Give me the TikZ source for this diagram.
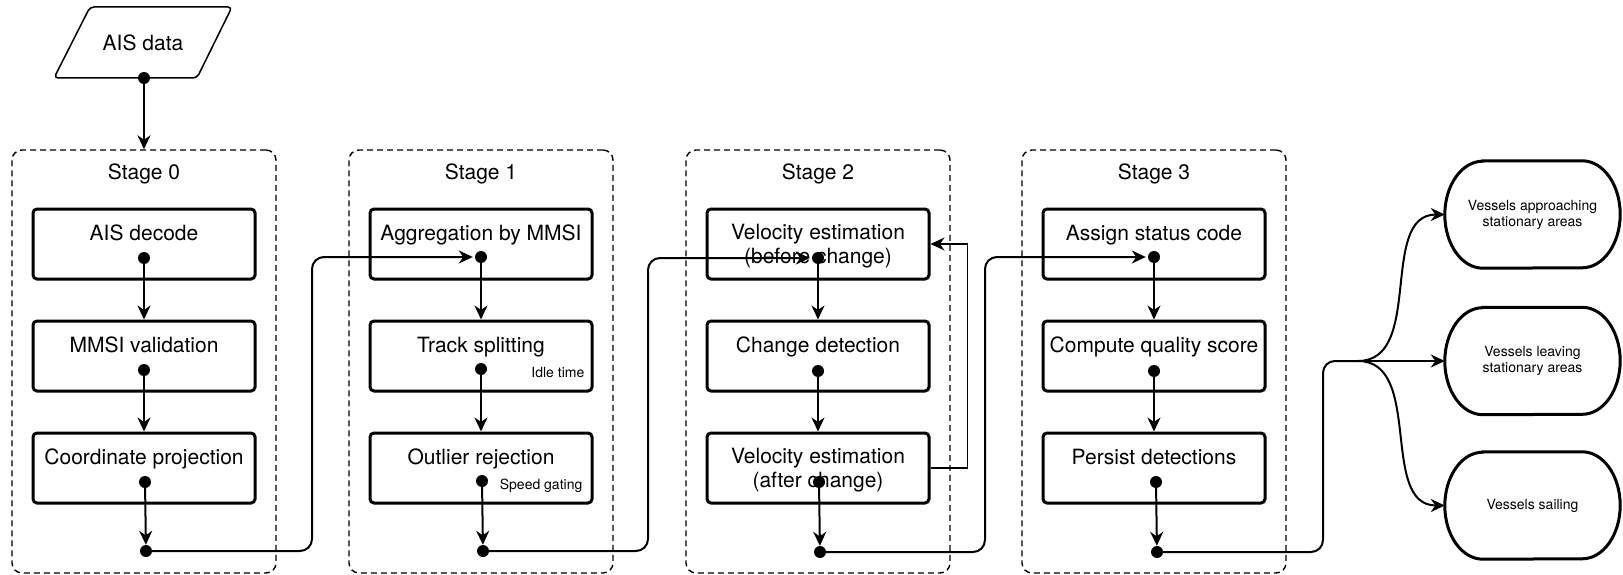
\documentclass[tikz,border=0pt]{standalone}
\usepackage{fontspec}
\setmainfont{TeX Gyre Heros}
\usetikzlibrary{arrows.meta,calc}
\begin{document}
\begin{tikzpicture}[x=1pt,y=-1pt,
  stagebox/.style={draw, line width=1.4pt, dash pattern=on 6pt off 4pt, rounded corners=10pt,
    minimum width=264pt, minimum height=423pt, inner sep=0pt},
  procbox/.style={draw, line width=3pt, rounded corners=4pt, minimum width=222pt,
    minimum height=70pt, inner sep=0pt},
  bigtext/.style={font=\fontsize{21}{24}\selectfont, inner sep=0pt, text height=15pt, text depth=4pt},
  twoline/.style={font=\fontsize{21}{24}\selectfont, inner sep=0pt, align=center},
  notetext/.style={font=\fontsize{14}{16}\selectfont, inner sep=0pt, text height=10pt,
    text depth=3pt, anchor=east},
  dotnode/.style={circle, fill=black, inner sep=0pt, minimum size=12pt},
  arrowhd/.style={-{Stealth[length=14pt,width=13pt,inset=4.5pt]}},
  flowline/.style={arrowhd, line width=2pt},
  linkline/.style={flowline, rounded corners=12pt, shorten >=2pt},
  fbline/.style={arrowhd, line width=1.4pt},
  termnode/.style={font=\fontsize{14}{16}\selectfont, align=center, inner sep=0pt,
    minimum width=175pt, minimum height=107pt},
]
\useasboundingbox (0,0) rectangle (1623,575);

% input
\draw[line width=1.5pt, rounded corners=4pt] (90,7) -- (232,7) -- (197,78) -- (54,78) -- cycle;
\node[bigtext] (ais) at (143,45) {AIS data};
\node[dotnode] (aisd) at (144,78) {};

% stage frames
\node[stagebox] (s0) at (144,361.5) {};
\node[stagebox] (s1) at (481,361.5) {};
\node[stagebox] (s2) at (818,361.5) {};
\node[stagebox] (s3) at (1154,361.5) {};
\node[bigtext] (s0t) at ($(s0.north)+(0,25)$) {Stage 0};
\node[bigtext] (s1t) at ($(s1.north)+(0,25)$) {Stage 1};
\node[bigtext] (s2t) at ($(s2.north)+(0,25)$) {Stage 2};
\node[bigtext] (s3t) at ($(s3.north)+(0,25)$) {Stage 3};

% stage 0
\node[procbox] (b00) at (144,244) {};
\node[procbox] (b01) at (144,356) {};
\node[procbox] (b02) at (144,468) {};
\node[bigtext] (b00t) at ($(b00.north)+(0,27)$) {AIS decode};
\node[bigtext] (b01t) at ($(b01.north)+(0,27)$) {MMSI validation};
\node[bigtext] (b02t) at ($(b02.north)+(0,27)$) {Coordinate projection};
\node[dotnode] (d00) at (144,258) {};
\node[dotnode] (d01) at (144,370) {};
\node[dotnode] (d02) at (145,482) {};
\node[dotnode] (j0) at (146,551) {};

% stage 1
\node[procbox] (b10) at (481,244) {};
\node[procbox] (b11) at (481,356) {};
\node[procbox] (b12) at (481,468) {};
\node[bigtext] (b10t) at ($(b10.north)+(0,27)$) {Aggregation by MMSI};
\node[bigtext] (b11t) at ($(b11.north)+(0,27)$) {Track splitting};
\node[bigtext] (b12t) at ($(b12.north)+(0,27)$) {Outlier rejection};
\node[notetext] (n11) at ($(b11.north east)+(-9,54.5)$) {Idle time};
\node[notetext] (n12) at ($(b12.north east)+(-11,54.5)$) {Speed gating};
\node[dotnode] (d10) at (481,257) {};
\node[dotnode] (d11) at (481,369) {};
\node[dotnode] (d12) at (482,481) {};
\node[dotnode] (j1) at (483,551) {};

% stage 2
\node[procbox] (b20) at (818,244) {};
\node[procbox] (b21) at (818,356) {};
\node[procbox] (b22) at (818,468) {};
\node[twoline] (b20t) at ($(b20.north)+(0,39)$) {Velocity estimation\\(before change)};
\node[bigtext] (b21t) at ($(b21.north)+(0,27)$) {Change detection};
\node[twoline] (b22t) at ($(b22.north)+(0,39)$) {Velocity estimation\\(after change)};
\node[dotnode] (d20) at (818,258) {};
\node[dotnode] (d21) at (818,371) {};
\node[dotnode] (d22) at (819,482) {};
\node[dotnode] (j2) at (820,552) {};

% stage 3
\node[procbox] (b30) at (1154,244) {};
\node[procbox] (b31) at (1154,356) {};
\node[procbox] (b32) at (1154,468) {};
\node[bigtext] (b30t) at ($(b30.north)+(0,27)$) {Assign status code};
\node[bigtext] (b31t) at ($(b31.north)+(0,27)$) {Compute quality score};
\node[bigtext] (b32t) at ($(b32.north)+(0,27)$) {Persist detections};
\node[dotnode] (d30) at (1154,257) {};
\node[dotnode] (d31) at (1154,371) {};
\node[dotnode] (d32) at (1156,482) {};
\node[dotnode] (j3) at (1157,552) {};

% outcomes
\node[termnode] (t1) at (1532.5,214.5) {Vessels approaching\\stationary areas};
\node[termnode] (t2) at (1532.5,361) {Vessels leaving\\stationary areas};
\node[termnode] (t3) at (1532.5,505.5) {Vessels sailing};
\foreach \tn in {t1,t2,t3}
  \draw[line width=3pt]
    ($(\tn.north west)+(38,0)$) -- ($(\tn.north east)+(-38,0)$)
    arc[start angle=-90, end angle=90, x radius=38, y radius=53.5]
    -- ($(\tn.south west)+(38,0)$)
    arc[start angle=90, end angle=270, x radius=38, y radius=53.5] -- cycle;

% flow inside the stages
\draw[flowline] (aisd) -- (s0.north);
\draw[flowline] (d00) -- (b01.north);
\draw[flowline] (d01) -- (b02.north);
\draw[flowline] (d02) -- (j0);
\draw[flowline] (d10) -- (b11.north);
\draw[flowline] (d11) -- (b12.north);
\draw[flowline] (d12) -- (j1);
\draw[flowline] (d20) -- (b21.north);
\draw[flowline] (d21) -- (b22.north);
\draw[flowline] (d22) -- (j2);
\draw[flowline] (d30) -- (b31.north);
\draw[flowline] (d31) -- (b32.north);
\draw[flowline] (d32) -- (j3);

% feedback loop of stage 2
\draw[fbline] (b22.east) -- ++(37,0) |- (b20.east);

% links between stages
\coordinate (c0) at (312,0);
\coordinate (c1) at (648,0);
\coordinate (c2) at (985,0);
\coordinate (c3) at (1323,0);
\coordinate (fork) at (1358,361);
\draw[linkline] (j0) -| (c0 |- d10) -- (d10);
\draw[linkline] (j1) -| (c1 |- d20) -- (d20);
\draw[linkline] (j2) -| (c2 |- d30) -- (d30);
\draw[line width=2pt, rounded corners=12pt] (j3) -| (c3 |- fork) -- (fork);

% fan-out to the outcomes
\draw[flowline] (fork) to[out=0,in=180] (t1.west);
\draw[flowline] (fork) -- (t2.west);
\draw[flowline] (fork) to[out=0,in=180] (t3.west);
\end{tikzpicture}
\end{document}
